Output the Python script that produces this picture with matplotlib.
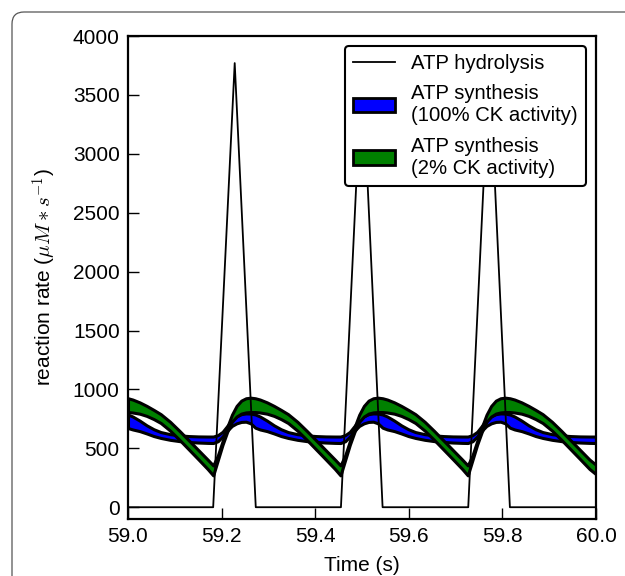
import matplotlib
matplotlib.use('Agg')
import matplotlib.pyplot as plt
from matplotlib.patches import FancyBboxPatch, Patch
from matplotlib.lines import Line2D

plt.rcParams['font.family'] = ['Liberation Sans', 'DejaVu Sans']
plt.rcParams['mathtext.fontset'] = 'cm'
plt.rcParams['font.size'] = 15

# ATP hydrolysis (triangular spikes)
hyd_t = [59.0, 59.182, 59.228, 59.273, 59.455, 59.500, 59.544, 59.727, 59.772, 59.816, 60.0]
hyd_v = [0, 0, 3770, 0, 0, 3770, 0, 0, 3770, 0, 0]

# time grid shared by the synthesis bands
time = [59.000, 59.010, 59.025, 59.040, 59.055, 59.070, 59.090, 59.110, 59.130, 59.150, 59.170,
        59.182, 59.192, 59.202, 59.212, 59.222, 59.232, 59.242, 59.252, 59.262, 59.272,
        59.282, 59.297, 59.312, 59.327, 59.342, 59.362, 59.382, 59.402, 59.422, 59.442,
        59.454, 59.464, 59.474, 59.484, 59.494, 59.504, 59.514, 59.524, 59.534, 59.544,
        59.554, 59.569, 59.584, 59.599, 59.614, 59.634, 59.654, 59.674, 59.694, 59.714,
        59.726, 59.736, 59.746, 59.756, 59.766, 59.776, 59.786, 59.796, 59.806, 59.816,
        59.826, 59.841, 59.856, 59.871, 59.886, 59.906, 59.926, 59.946, 59.966, 59.986,
        60.000]

# ATP synthesis, 100% CK activity (blue band)
blue_hi = [787, 770, 735, 695, 662, 638, 620, 610, 604, 601, 600,
           600, 612, 640, 690, 740, 772, 790, 796, 795, 787,
           770, 735, 695, 662, 638, 620, 610, 604, 601, 600,
           600, 612, 640, 690, 740, 772, 790, 796, 795, 787,
           770, 735, 695, 662, 638, 620, 610, 604, 601, 600,
           600, 612, 640, 690, 740, 772, 790, 796, 795, 787,
           770, 735, 695, 662, 638, 620, 610, 604, 601, 600,
           600]
blue_lo = [672, 660, 646, 626, 604, 588, 572, 561, 554, 549, 546,
           545, 560, 600, 650, 690, 712, 724, 726, 712, 675,
           660, 646, 626, 604, 588, 572, 561, 554, 549, 546,
           545, 560, 600, 650, 690, 712, 724, 726, 712, 675,
           660, 646, 626, 604, 588, 572, 561, 554, 549, 546,
           545, 560, 600, 650, 690, 712, 724, 726, 712, 675,
           660, 646, 626, 604, 588, 572, 561, 554, 549, 546,
           545]

# ATP synthesis, 2% CK activity (green band)
green_hi = [925, 914, 890, 860, 826, 790, 725, 648, 567, 486, 405,
            355, 440, 560, 680, 785, 860, 905, 925, 930, 925,
            914, 890, 860, 826, 790, 725, 648, 567, 486, 405,
            355, 440, 560, 680, 785, 860, 905, 925, 930, 925,
            914, 890, 860, 826, 790, 725, 648, 567, 486, 405,
            355, 440, 560, 680, 785, 860, 905, 925, 930, 925,
            914, 890, 860, 826, 790, 725, 648, 567, 486, 405,
            360]
green_lo = [808, 804, 794, 775, 748, 715, 650, 572, 490, 408, 325,
            270, 400, 530, 640, 725, 770, 795, 805, 808, 808,
            804, 794, 775, 748, 715, 650, 572, 490, 408, 325,
            270, 400, 530, 640, 725, 770, 795, 805, 808, 808,
            804, 794, 775, 748, 715, 650, 572, 490, 408, 325,
            270, 400, 530, 640, 725, 770, 795, 805, 808, 808,
            804, 794, 775, 748, 715, 650, 572, 490, 408, 325,
            280]

xticks = [59.0, 59.2, 59.4, 59.6, 59.8, 60.0]
yticks = [0, 500, 1000, 1500, 2000, 2500, 3000, 3500, 4000]

fig = plt.figure(figsize=(6.25, 5.76), dpi=100)

# rounded card border around the figure
card = FancyBboxPatch((12, -30), 660, 576 - 12 + 30, boxstyle="round,pad=0,rounding_size=12",
                      transform=None, facecolor='none', edgecolor='#555555', linewidth=0.9)
fig.patches.append(card)

ax = fig.add_axes([128/625, 1 - 519/576, 468/625, 483/576])

ax.fill_between(time, blue_lo, blue_hi, facecolor='b', edgecolor='k', linewidth=2.2, zorder=2)
ax.fill_between(time, green_lo, green_hi, facecolor='g', edgecolor='k', linewidth=2.2, zorder=3)
ax.plot(hyd_t, hyd_v, 'k-', linewidth=1.3, zorder=4)

ax.set_xlim(59.0, 60.0)
ax.set_ylim(-100, 4000)
ax.set_xticks(xticks)
ax.set_xticklabels(['%.1f' % v for v in xticks])
ax.set_yticks(yticks)
ax.tick_params(direction='in', length=8, width=1, pad=6, top=False, right=False)
for s in ax.spines.values():
    s.set_linewidth(1.6)

ax.set_xlabel('Time (s)', labelpad=7)
ax.set_ylabel(r'reaction rate ($\mu M*s^{-1}$)', labelpad=10)

handles = [Line2D([], [], color='k', linewidth=1.3),
           Patch(facecolor='b', edgecolor='k', linewidth=2),
           Patch(facecolor='g', edgecolor='k', linewidth=2)]
labels = ['ATP hydrolysis', 'ATP synthesis\n(100% CK activity)', 'ATP synthesis\n(2% CK activity)']
leg = ax.legend(handles, labels, loc='upper right', fancybox=True, framealpha=1,
                fontsize=14.6, handlelength=2.05, borderaxespad=0.5, labelspacing=0.55,
                handletextpad=0.8, borderpad=0.4)
leg.get_frame().set_edgecolor('k')
leg.get_frame().set_linewidth(1.5)
leg.set_zorder(10)

fig.savefig('out.png', dpi=100)
